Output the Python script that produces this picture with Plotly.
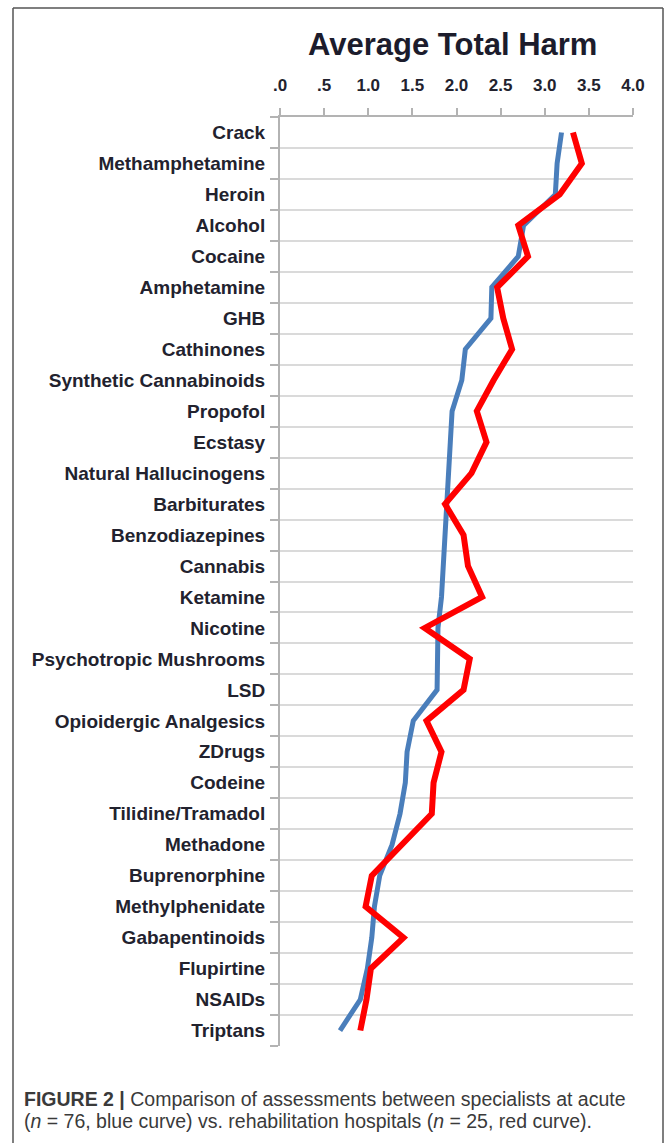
import plotly.graph_objects as go

drugs = ["Crack", "Methamphetamine", "Heroin", "Alcohol", "Cocaine", "Amphetamine", "GHB",
         "Cathinones", "Synthetic Cannabinoids", "Propofol", "Ecstasy", "Natural Hallucinogens",
         "Barbiturates", "Benzodiazepines", "Cannabis", "Ketamine", "Nicotine",
         "Psychotropic Mushrooms", "LSD", "Opioidergic Analgesics", "ZDrugs", "Codeine",
         "Tilidine/Tramadol", "Methadone", "Buprenorphine", "Methylphenidate", "Gabapentinoids",
         "Flupirtine", "NSAIDs", "Triptans"]

acute_blue = [3.19, 3.14, 3.12, 2.76, 2.70, 2.40, 2.39, 2.10, 2.06, 1.95, 1.93, 1.91, 1.89, 1.88,
              1.85, 1.83, 1.79, 1.79, 1.78, 1.51, 1.44, 1.42, 1.36, 1.27, 1.13, 1.07, 1.04, 0.99,
              0.91, 0.68]
rehab_red = [3.32, 3.42, 3.17, 2.70, 2.81, 2.46, 2.53, 2.63, 2.42, 2.23, 2.34, 2.17, 1.87, 2.08,
             2.13, 2.29, 1.64, 2.15, 2.08, 1.66, 1.83, 1.74, 1.72, 1.37, 1.04, 0.97, 1.40, 1.03,
             0.98, 0.91]

x_ticks = [0, 0.5, 1.0, 1.5, 2.0, 2.5, 3.0, 3.5, 4.0]
x_tick_text = [".0", ".5", "1.0", "1.5", "2.0", "2.5", "3.0", "3.5", "4.0"]

W, H = 667, 1143
L, R, T, B = 280, 633, 117, 1046

def px(x):
    return (x - L) / (R - L)

def py(y):
    return (B - y) / (B - T)

fig = go.Figure()
fig.add_trace(go.Scatter(x=acute_blue, y=drugs, mode="lines",
                         line=dict(color="#4a7ebb", width=5), showlegend=False))
fig.add_trace(go.Scatter(x=rehab_red, y=drugs, mode="lines",
                         line=dict(color="#ff0000", width=6), showlegend=False))

label_font = dict(family="Liberation Sans, Arial", size=19, color="#22222e")

fig.update_layout(
    width=W, height=H,
    margin=dict(l=L, r=W - R, t=T, b=H - B, pad=0),
    paper_bgcolor="white", plot_bgcolor="white",
    xaxis=dict(side="top", range=[0, 4.0], tickvals=x_ticks,
               ticktext=["<b>%s</b>" % t for t in x_tick_text],
               showgrid=False, zeroline=False, showline=True, linecolor="#b3b3b3",
               linewidth=2, ticks="outside", ticklen=7, tickwidth=2, tickcolor="#b3b3b3",
               tickfont=dict(family="Liberation Sans, Arial", size=17, color="#22222e"),
               ticklabelstandoff=10),
    yaxis=dict(type="category", categoryorder="array", categoryarray=drugs,
               tickvals=drugs, ticktext=["<b>%s</b>" % d for d in drugs],
               range=[29.5, -0.5], tickson="boundaries", showgrid=True,
               gridcolor="#dadada", gridwidth=2, showline=True, linecolor="#b3b3b3",
               linewidth=2, ticks="outside", ticklen=8, tickwidth=2, tickcolor="#b3b3b3",
               tickfont=label_font, ticklabelstandoff=9, zeroline=False),
    font=dict(family="Liberation Sans, Arial"),
)

fig.add_annotation(text="<b>Average Total Harm</b>", xref="paper", yref="paper",
                   x=px(452), y=py(44), xanchor="center", yanchor="middle", showarrow=False,
                   font=dict(family="Liberation Sans, Arial", size=31, color="#1c1c2c"))

cap_font = dict(family="Liberation Sans, Arial", size=19.5, color="#3a3a3a")
fig.add_annotation(text="<b>FIGURE 2 |</b> Comparison of assessments between specialists at acute",
                   xref="paper", yref="paper", x=px(22), y=py(1099), xanchor="left",
                   yanchor="middle", showarrow=False, font=cap_font)
fig.add_annotation(text="(<i>n</i> = 76, blue curve) vs. rehabilitation hospitals (<i>n</i> = 25, red curve).",
                   xref="paper", yref="paper", x=px(22), y=py(1121), xanchor="left",
                   yanchor="middle", showarrow=False, font=cap_font)

# outer figure frame (open at the bottom, as in the cropped original)
frame = dict(color="#555555", width=1.5)
fig.add_shape(type="line", xref="paper", yref="paper", x0=px(13), x1=px(13),
              y0=py(8), y1=py(1160), line=frame)
fig.add_shape(type="line", xref="paper", yref="paper", x0=px(13), x1=px(663),
              y0=py(8), y1=py(8), line=frame)
fig.add_shape(type="line", xref="paper", yref="paper", x0=px(663), x1=px(663),
              y0=py(8), y1=py(1160), line=frame)

fig.write_html("out.html", config={"displayModeBar": False},
               post_script="document.body.style.margin='0';document.body.style.overflow='hidden';")
